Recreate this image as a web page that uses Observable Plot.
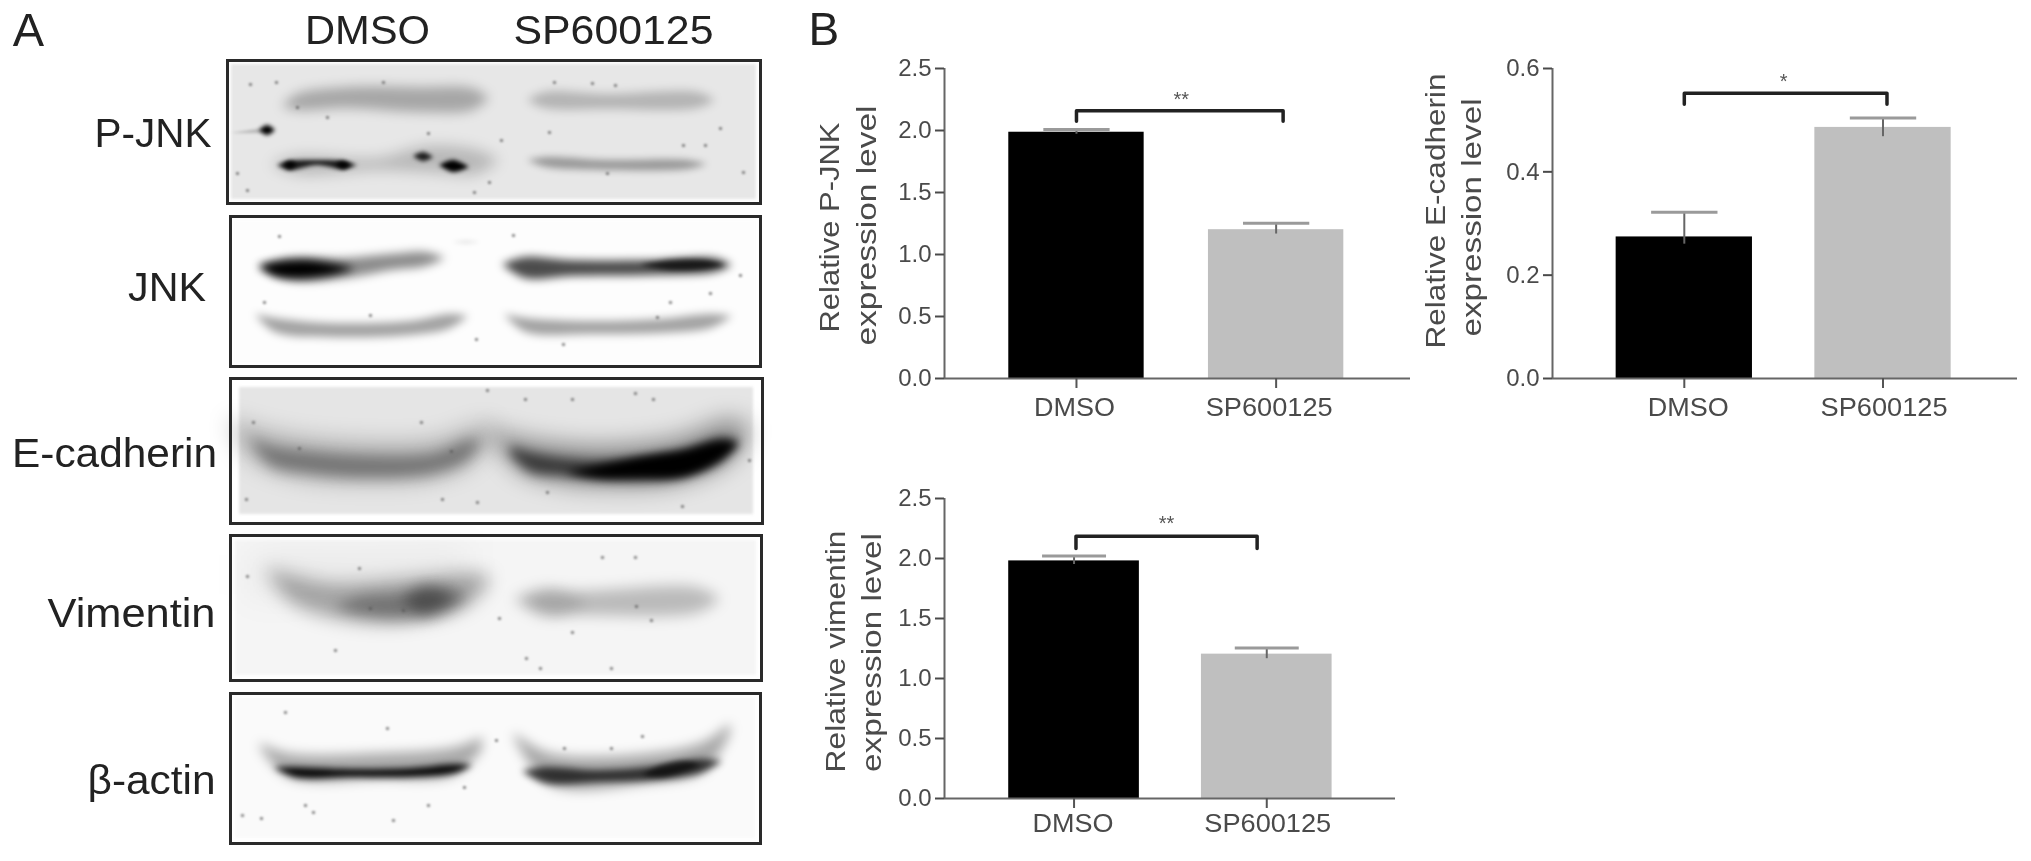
<!DOCTYPE html>
<html>
<head>
<meta charset="utf-8">
<script src="https://cdn.jsdelivr.net/npm/d3@7"></script>
<script src="https://cdn.jsdelivr.net/npm/@observablehq/plot@0.6"></script>
<style>
  html, body { margin: 0; padding: 0; background: #fff; }
  #page { position: relative; width: 2031px; height: 861px; overflow: hidden; }
  #page svg { position: absolute; overflow: visible; filter: blur(0.65px); background: transparent; }
</style>
</head>
<body>
<div id="page"></div>
<script>
// ---------- Panel B: values ----------
const groups = ["DMSO", "SP600125"];
const groupPos = [1, 2];

const pjnkMean = [1.986, 1.20];
const pjnkHigh = [2.008, 1.252];
const pjnkLow = [1.97, 1.165];

const ecadMean = [0.274, 0.486];
const ecadHigh = [0.322, 0.504];
const ecadLow = [0.26, 0.468];

const vimMean = [1.98, 1.203];
const vimHigh = [2.02, 1.255];
const vimLow = [1.95, 1.165];

const pjnkTicks = [0, 0.5, 1, 1.5, 2, 2.5];
const ecadTicks = [0, 0.2, 0.4, 0.6];
const vimTicks = [0, 0.5, 1, 1.5, 2, 2.5];

const pjnkBracketX = [1, 1, 2.035, 2.035];
const pjnkBracketY = [2.075, 2.16, 2.16, 2.075];
const ecadBracketX = [1, 1, 2.02, 2.02];
const ecadBracketY = [0.531, 0.552, 0.552, 0.531];
const vimBracketX = [1.01, 1.01, 1.95, 1.95];
const vimBracketY = [2.083, 2.186, 2.186, 2.083];

// ---------- Panel A: gel bands. Each band is [distance along gel, upper edge, lower edge],
// measured in the gel's own units from its top-left corner ----------
const pjnkBands = [
  {d: .28, b: 6, p: [[55,46,46],[70,34,50],[120,27,48],[190,27,52],[245,28,50],[262,38,38]]},
  {d: .22, b: 5, p: [[300,40,40],[318,32,48],[380,34,49],[470,32,48],[488,40,40]]},
  {d: .20, b: 7, p: [[44,104,104],[70,96,114],[150,98,110],[200,86,112],[250,90,114],[272,100,100]]},
  {d: .85, b: 2, p: [[50,105,105],[62,101,110],[90,100,105],[116,101,109],[130,105,105]]},
  {d: 1, b: 2.2, p: [[56,104,104],[63,101,109],[70,104,104]]},
  {d: 1, b: 2.2, p: [[108,104,104],[116,101,109],[124,105,105]]},
  {d: .85, b: 2.2, p: [[186,96,96],[196,92,101],[206,97,97]]},
  {d: 1, b: 2.2, p: [[212,105,105],[226,100,112],[242,107,107]]},
  {d: .34, b: 3.5, p: [[300,100,100],[320,97,107],[380,100,110],[460,100,109],[480,104,104]]},
  {d: 1, b: 2, p: [[32,70,70],[40,65,75],[48,70,70]]},
  {d: .2, b: 1.5, p: [[4,73,73],[36,68,73]]}
];
const jnkBands = [
  {d: 1, b: 4, p: [[28,50,50],[45,46,60],[75,44,62],[105,48,58],[125,52,52]]},
  {d: .45, b: 5, p: [[30,50,50],[60,42,64],[115,42,62],[160,38,54],[195,36,50],[215,42,42]]},
  {d: .7, b: 4, p: [[272,48,48],[295,41,62],[340,44,60],[420,44,59],[485,42,56],[502,49,49]]},
  {d: .7, b: 2.5, p: [[410,49,49],[440,44,54],[475,44,53],[495,49,49]]},
  {d: .36, b: 4, p: [[25,98,98],[45,102,116],[100,107,121],[180,105,119],[220,98,112],[238,100,100]]},
  {d: .36, b: 4, p: [[274,98,98],[296,102,116],[360,105,118],[430,103,117],[480,98,112],[502,100,100]]},
  {d: .08, b: 2, p: [[222,26,26],[236,24,28],[250,26,26]]}
];
const ecadBands = [
  {d: .24, b: 11, p: [[0,40,50],[20,48,80],[64,58,98],[134,64,104],[203,62,100],[240,50,86],[262,44,60]]},
  {d: .34, b: 7, p: [[22,60,64],[40,68,88],[80,74,96],[134,78,100],[203,76,96],[238,62,82],[250,62,66]]},
  {d: .36, b: 11, p: [[262,50,62],[290,58,94],[330,64,106],[377,66,110],[447,58,106],[500,40,84],[518,46,60]]},
  {d: .62, b: 6, p: [[280,68,76],[300,74,94],[335,80,98],[377,82,102],[447,74,100],[490,60,84],[508,62,66]]},
  {d: 1, b: 4, p: [[335,94,94],[370,87,100],[410,79,100],[455,72,98],[490,63,82],[508,65,65]]}
];
const vimBands = [
  {d: .32, b: 9, p: [[38,34,38],[60,40,66],[100,48,82],[170,44,88],[235,38,72],[258,40,50]]},
  {d: .3, b: 7, p: [[104,72,72],[130,62,80],[175,58,84],[215,52,78],[236,60,64]]},
  {d: .32, b: 7, p: [[172,64,64],[195,50,80],[225,64,64]]},
  {d: .24, b: 7, p: [[284,64,64],[310,54,80],[350,56,80],[465,52,78],[488,62,66]]},
  {d: .1, b: 6, p: [[296,66,66],[325,56,80],[358,68,68]]},
  {d: .06, b: 18, p: [[20,20,60],[120,20,50],[240,16,40]]}
];
const actinBands = [
  {d: .32, b: 6, p: [[30,50,54],[58,60,84],[150,60,86],[225,54,82],[252,44,56]]},
  {d: .95, b: 3, p: [[44,74,74],[65,74,84],[120,76,84],[180,75,84],[225,71,80],[242,72,72]]},
  {d: .32, b: 6, p: [[284,40,44],[320,60,92],[420,60,90],[475,48,78],[500,30,40]]},
  {d: .72, b: 3.5, p: [[292,78,78],[315,74,90],[370,77,89],[425,73,87],[470,66,80],[492,68,68]]},
  {d: .6, b: 2.5, p: [[412,82,82],[432,72,84],[455,68,78],[470,72,72]]}
];

const pjnkSpecks = [[23,24],[49,22],[100,57],[201,73],[70,47],[274,80],[327,22],[365,23],[388,25],[493,68],[456,85],[478,85],[516,112],[380,113],[262,122],[10,113],[20,130],[247,132],[322,72],[156,22]];
const jnkSpecks = [[49,20],[283,19],[34,86],[510,59],[440,86],[480,77],[246,123],[333,128],[140,99],[427,101]];
const ecadSpecks = [[23,44],[69,70],[191,44],[257,12],[295,21],[342,21],[405,15],[423,21],[519,82],[16,121],[212,121],[247,124],[317,114],[452,128],[221,73]];
const vimSpecks = [[17,41],[129,33],[372,22],[406,71],[105,115],[296,123],[310,133],[381,133],[342,97],[405,22],[140,73],[173,75],[269,83],[421,85]];
const actinSpecks = [[55,19],[157,35],[334,55],[381,55],[412,43],[234,94],[83,119],[198,112],[31,125],[12,122],[75,112],[163,127],[266,47]];

const FONT = "Liberation Sans, Arial, sans-serif";
const page = document.getElementById("page");

function place(svg, left, top, lengths) {
  // the reference's lettering is stretched: fit each named text to its measured length
  svg.querySelectorAll("text").forEach(t => {
    const L = lengths[t.textContent];
    if (L) { t.setAttribute("textLength", L); t.setAttribute("lengthAdjust", "spacingAndGlyphs"); }
  });
  svg.style.left = left + "px";
  svg.style.top = top + "px";
  page.appendChild(svg);
}

// ---------- gel panel ----------
function gel({name, x0, y0, w, h, bg, bands, specks, inset, dx, dy, header, len}) {
  const mt = header ? y0 : 4;
  const marks = [
    Plot.rect([0], {x1: () => inset, x2: () => w - inset, y1: () => inset, y2: () => h - inset, fill: bg, imageFilter: "blur(1.5px)"}),
    ...bands.map(({d, b, p}) => Plot.areaY(p, {x: "0", y1: "1", y2: "2", curve: "catmull-rom", fill: "#000", fillOpacity: d, imageFilter: `blur(${b}px)`})),
    Plot.dot(specks, {x: "0", y: "1", r: 1.7, fill: "#555", fillOpacity: 0.65, imageFilter: "blur(1px)"}),
    Plot.frame({stroke: "#2a2a2a", strokeWidth: 3}),
    Plot.text([name], {frameAnchor: "left", textAnchor: "end", dx, dy, fontSize: 40, fill: "#222"})
  ];
  if (header) {
    marks.push(Plot.text(groups, {x: [140, 386], y: [-29, -29], fontSize: 40, fill: "#222"}));
    marks.push(Plot.text(["A"], {x: [-199], y: [-30], fontSize: 47, fill: "#222"}));
  }
  const svg = Plot.plot({
    width: x0 + w + 4, height: mt + h + 4,
    marginLeft: x0, marginRight: 4, marginTop: mt, marginBottom: 4,
    x: {domain: [0, w], axis: null},
    y: {domain: [h, 0], axis: null},
    style: {fontFamily: FONT, background: "transparent"},
    marks
  });
  place(svg, 0, y0 - mt, {[name]: len, ...(header ? {DMSO: 125, SP600125: 200} : {})});
}

gel({name: "P-JNK", len: 117, x0: 227, y0: 60, w: 533, h: 143, bg: "#e7e7e7", bands: pjnkBands, specks: pjnkSpecks, inset: 4, dx: -16, dy: 2.5, header: true});
gel({name: "JNK", len: 78, x0: 230, y0: 216, w: 530, h: 150, bg: "#fdfdfd", bands: jnkBands, specks: jnkSpecks, inset: 4, dx: -24.5, dy: -3.5});
gel({name: "E-cadherin", len: 205, x0: 230, y0: 378, w: 532, h: 145, bg: "#e5e5e5", bands: ecadBands, specks: ecadSpecks, inset: 9, dx: -13.5, dy: 3});
gel({name: "Vimentin", len: 168, x0: 230, y0: 535, w: 531, h: 145, bg: "#f5f5f5", bands: vimBands, specks: vimSpecks, inset: 5, dx: -15, dy: 6});
gel({name: "β-actin", len: 128, x0: 230, y0: 693, w: 530, h: 150, bg: "#fafafa", bands: actinBands, specks: actinSpecks, inset: 5, dx: -15, dy: 13});

// ---------- bar panel ----------
function barPanel({left, axisX, axisEnd, top, bottom, xDomain, yMax, ticks, mean, high, low, barHalf, capInset,
                   titles, bracketX, bracketY, stars, starPos, labelPos, labelDy, letter}) {
  const rows = groups.map((g, i) => ({g, pos: groupPos[i], mean: mean[i], high: high[i], low: low[i]}));
  const bracket = bracketX.map((x, i) => ({x, y: bracketY[i]}));
  const mid = (top + bottom) / 2;
  const marks = [
    Plot.rectY(rows, {x1: d => d.pos - barHalf, x2: d => d.pos + barHalf, y1: 0, y2: "mean", fill: d => d.g === groups[0] ? "#000" : "#bfbfbf"}),
    Plot.ruleX(rows, {x: "pos", y1: "low", y2: "high", stroke: "#666", strokeWidth: 2}),
    Plot.link(rows, {x1: d => d.pos - capInset, x2: d => d.pos + capInset, y1: "high", y2: "high", stroke: "#9a9a9a", strokeWidth: 3}),
    Plot.ruleY([0], {stroke: "#666", strokeWidth: 2}),
    Plot.ruleX([xDomain[0]], {y1: 0, y2: yMax, stroke: "#666", strokeWidth: 2}),
    Plot.axisY(ticks, {tickSize: 9, tickPadding: 4, tickFormat: ".1f", label: null, fontSize: 24, color: "#4a4a4a", strokeWidth: 2}),
    Plot.axisX(groupPos, {anchor: "bottom", tickSize: 10, tickFormat: () => "", label: null, color: "#555", strokeWidth: 2}),
    Plot.text(groups, {x: labelPos, y: [0, 0], dy: labelDy, fontSize: 26, fill: "#4a4a4a"}),
    Plot.line(bracket, {x: "x", y: "y", stroke: "#222", strokeWidth: 3.5}),
    Plot.text([stars], {x: [starPos[0]], y: [starPos[1]], fontSize: 20, fill: "#555"}),
    ...titles.map(t => Plot.text([t.text], {frameAnchor: "left", textAnchor: "middle", rotate: -90, dx: t.x - axisX, dy: t.y - mid, fontSize: 28, fill: "#4a4a4a"}))
  ];
  if (letter) marks.push(Plot.text([letter], {frameAnchor: "top-left", dx: 808 - axisX, dy: 30 - top, textAnchor: "start", lineAnchor: "middle", fontSize: 46, fill: "#222"}));
  const svg = Plot.plot({
    width: axisEnd - left + 2, height: bottom + 50,
    marginLeft: axisX - left, marginRight: 2, marginTop: top, marginBottom: 50,
    x: {domain: xDomain, axis: null},
    y: {domain: [0, yMax], axis: null},
    style: {fontFamily: FONT, background: "transparent"},
    marks
  });
  const lengths = {DMSO: 81, SP600125: 127};
  titles.forEach(t => lengths[t.text] = t.len);
  place(svg, left, 0, lengths);
}

barPanel({
  left: 800, axisX: 944, axisEnd: 1410, top: 68, bottom: 378,
  xDomain: [0.339, 2.673], yMax: 2.5, ticks: pjnkTicks, mean: pjnkMean, high: pjnkHigh, low: pjnkLow,
  barHalf: 0.339, capInset: 0.166,
  titles: [{text: "Relative P-JNK", x: 830, y: 227, len: 210}, {text: "expression level", x: 867, y: 225, len: 240}],
  bracketX: pjnkBracketX, bracketY: pjnkBracketY, stars: "**", starPos: [1.525, 2.25],
  labelPos: [0.99, 1.965], labelDy: 29, letter: "B"
});
barPanel({
  left: 1410, axisX: 1552, axisEnd: 2017, top: 68, bottom: 378,
  xDomain: [0.3367, 2.6768], yMax: 0.6, ticks: ecadTicks, mean: ecadMean, high: ecadHigh, low: ecadLow,
  barHalf: 0.343, capInset: 0.167,
  titles: [{text: "Relative E-cadherin", x: 1436, y: 210.5, len: 275}, {text: "expression level", x: 1472, y: 217, len: 238}],
  bracketX: ecadBracketX, bracketY: ecadBracketY, stars: "*", starPos: [1.5, 0.575],
  labelPos: [1.02, 2.005], labelDy: 29
});
barPanel({
  left: 800, axisX: 944, axisEnd: 1395, top: 498, bottom: 798,
  xDomain: [0.3278, 2.668], yMax: 2.5, ticks: vimTicks, mean: vimMean, high: vimHigh, low: vimLow,
  barHalf: 0.339, capInset: 0.166,
  titles: [{text: "Relative vimentin", x: 835.5, y: 651, len: 242}, {text: "expression level", x: 872, y: 652, len: 239}],
  bracketX: vimBracketX, bracketY: vimBracketY, stars: "**", starPos: [1.48, 2.29],
  labelPos: [0.995, 2.005], labelDy: 25
});
</script>
</body>
</html>
